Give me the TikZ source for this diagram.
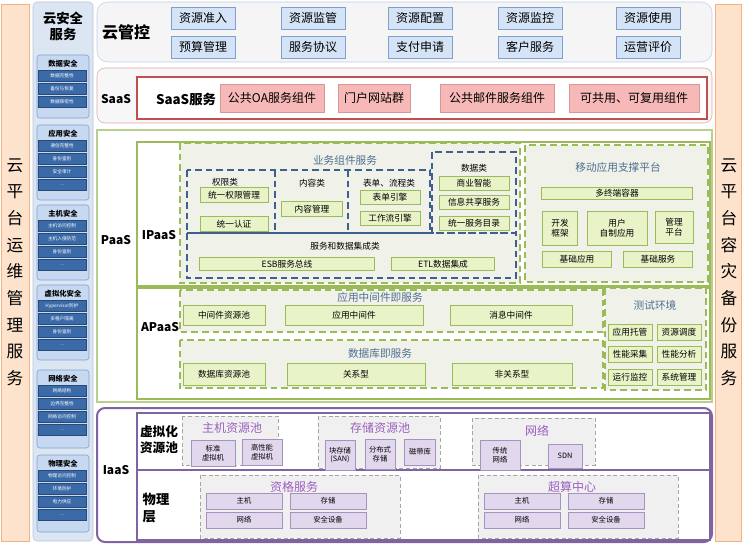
\documentclass[tikz,border=0pt]{standalone}
\usepackage{fontspec}
\setmainfont{Noto Sans CJK SC}
\usepackage{tikz}
\usetikzlibrary{positioning}
\definecolor{orbar}{HTML}{FDE3CC}
\definecolor{orline}{HTML}{F4B183}
\definecolor{secbg}{HTML}{DCE6F2}
\definecolor{secblk}{HTML}{C6D9F1}
\definecolor{secitem}{HTML}{3A6AA8}
\definecolor{bluebox}{HTML}{D5E3F6}
\definecolor{blueline}{HTML}{7F9FCF}
\definecolor{pinkbox}{HTML}{F7B9B7}
\definecolor{redline}{HTML}{C0504D}
\definecolor{greenbox}{HTML}{E8F3C8}
\definecolor{greenline}{HTML}{9BBB59}
\definecolor{paasbg}{HTML}{F0F2EA}
\definecolor{dashblue}{HTML}{3F5F8F}
\definecolor{purp}{HTML}{8064A2}
\definecolor{purpbox}{HTML}{E2D8EE}
\definecolor{purptxt}{HTML}{9B5FC0}
\definecolor{titletxt}{HTML}{4F6F8F}
\newcommand\etc{\ldots}
\tikzset{
  wh/.style 2 args={minimum width=#1*0.75pt, minimum height=#2*0.75pt, inner sep=0pt},
  bluebx/.style={draw=blueline, fill=bluebox, wh={64}{22}, font=\fontsize{9}{10}\selectfont},
  pinkbx/.style={draw=redline!60, fill=pinkbox, minimum height=28*0.75pt, inner sep=1pt, font=\fontsize{9}{10}\selectfont},
  grnbx/.style={draw=greenline, fill=greenbox, inner sep=0pt, font=\fontsize{6.5}{7.5}\selectfont},
  purbx/.style={draw=purp!70, fill=purpbox, inner sep=0pt, font=\fontsize{5.5}{6.5}\selectfont, align=center},
  grdash/.style={draw=greenline, line width=1.5pt, dash pattern=on 5pt off 3pt},
  bldash/.style={draw=dashblue, line width=1.2pt, dash pattern=on 5pt off 3pt},
  gydash/.style={draw=gray!70, densely dashed, fill=gray!12},
  lbl/.style={font=\bfseries\fontsize{9}{10}\selectfont},
  ttl/.style={text=titletxt, font=\fontsize{8}{9}\selectfont},
  pttl/.style={text=purptxt, font=\fontsize{9}{10}\selectfont},
  secit/.style={fill=secitem, draw=secitem!70!black, wh={48}{11}, text=white, font=\fontsize{3.5}{4}\selectfont},
  vbar/.style={align=center, font=\fontsize{12.5}{20}\selectfont},
}

\begin{document}
\begin{tikzpicture}[x=0.75pt, y=-0.75pt]
  \useasboundingbox (0,0) rectangle (742,545);

  % side bars
  \draw[orline, fill=orbar] (1,4) rectangle (29,541);
  \draw[orline, fill=orbar] (715,4) rectangle (741,541);
  \node[vbar] (ops) at (15,272) {云\\平\\台\\运\\维\\管\\理\\服\\务};
  \node[vbar] (dr) at (729,272) {云\\平\\台\\容\\灾\\备\\份\\服\\务};

  % security column
  \draw[blueline!60, fill=secbg, rounded corners=3pt] (33,2) rectangle (93,541);
  \node[align=center, font=\bfseries\fontsize{10}{12}\selectfont] (sec) at (63,26) {云安全\\服务};
  \foreach \ty/\h/\tname/\items in {
      55/63/数据安全/{数据完整性,备份与恢复,数据保密性},
      125/75/应用安全/{通信完整性,身份鉴别,安全审计,\etc},
      205/75/主机安全/{主机访问控制,主机入侵防范,身份鉴别,\etc},
      285/75/虚拟化安全/{Hypervisor防护,多租户隔离,身份鉴别,\etc},
      370/78/网络安全/{网络结构,边界完整性,网络访问控制,\etc},
      455/77/物理安全/{物理访问控制,环境防护,电力供应,\etc}} {
    \draw[blueline, fill=secblk, rounded corners=2pt] (37,\ty) rectangle (89,\ty+\h);
    \node[font=\bfseries\fontsize{5.5}{6}\selectfont] (s\ty) at (63,\ty+9) {\tname};
    \foreach \it [count=\k] in \items
      \node[secit] (s\ty-\k) at (62,\ty+8+\k*13) {\it};
  }

  % cloud management
  \draw[blueline!50, fill=gray!8, rounded corners=8pt] (97,2) rectangle (712,62);
  \node[font=\bfseries\fontsize{12}{14}\selectfont] (mgmt) at (126,32) {云管控};
  \foreach \cx/\a/\b [count=\i] in {203/资源准入/预算管理, 313/资源监管/服务协议, 420/资源配置/支付申请,
      530/资源监控/客户服务, 648/资源使用/运营评价} {
    \node[bluebx] (m\i a) at (\cx,18) {\a};
    \node[bluebx] (m\i b) at (\cx,47) {\b};
  }

  % SaaS
  \draw[redline!50, fill=gray!6, rounded corners=6pt] (97,68) rectangle (712,123);
  \node[lbl] (saas) at (116,99) {SaaS};
  \draw[redline, line width=1.5pt, fill=white] (137,77) rectangle (707,119);
  \node[font=\bfseries\fontsize{10}{12}\selectfont] (saassvc) at (186,99) {SaaS服务};
  \node[pinkbx, minimum width=104*0.75pt] (oa) at (272,98) {公共OA服务组件};
  \node[pinkbx, minimum width=72*0.75pt] (portal) at (374,98) {门户网站群};
  \node[pinkbx, minimum width=114*0.75pt] (mail) at (497,98) {公共邮件服务组件};
  \node[pinkbx, minimum width=130*0.75pt] (reuse) at (634,98) {可共用、可复用组件};

  % PaaS
  \draw[greenline!70, line width=1pt, fill=white] (97,130) rectangle (712,402);
  \node[lbl] (paas) at (116,240) {PaaS};
  \draw[greenline, line width=1.2pt, fill=white] (137,142) rectangle (710,286);
  \node[lbl] (ipaas) at (159,235) {IPaaS};
  \draw[grdash, fill=paasbg] (180,143) rectangle (520,283);
  \node[ttl] (biz) at (345,160) {业务组件服务};
  \draw[bldash] (187,170) rectangle (430,233);
  \draw[bldash] (275,170) -- (275,233);
  \draw[bldash] (348,170) -- (348,233);
  \draw[bldash] (432,152) rectangle (516,233);
  \draw[bldash] (187,233) rectangle (516,278);
  \node[font=\fontsize{6.5}{7}\selectfont] (auth) at (225,182) {权限类};
  \node[grnbx, wh={68}{15}] (auth1) at (234,195) {统一权限管理};
  \node[grnbx, wh={68}{15}] (auth2) at (234,224) {统一认证};
  \node[font=\fontsize{6.5}{7}\selectfont] (cont) at (312,183) {内容类};
  \node[grnbx, wh={61}{15}] (cont1) at (312,209) {内容管理};
  \node[font=\fontsize{6.5}{7}\selectfont] (form) at (389,183) {表单、流程类};
  \node[grnbx, wh={60}{14}] (form1) at (390,197) {表单引擎};
  \node[grnbx, wh={60}{14}] (form2) at (390,218) {工作流引擎};
  \node[font=\fontsize{6.5}{7}\selectfont] (data) at (474,168) {数据类};
  \node[grnbx, wh={70}{14}] (data1) at (474,183) {商业智能};
  \node[grnbx, wh={70}{14}] (data2) at (474,202) {信息共享服务};
  \node[grnbx, wh={70}{14}] (data3) at (474,223) {统一服务目录};
  \node[font=\fontsize{6.5}{7}\selectfont] (intg) at (345,246) {服务和数据集成类};
  \node[grnbx, wh={175}{13}] (esb) at (287,264) {ESB服务总线};
  \node[grnbx, wh={103}{13}] (etl) at (443,264) {ETL数据集成};

  \draw[grdash, fill=paasbg] (525,145) rectangle (708,282);
  \node[ttl] (mob) at (618,167) {移动应用支撑平台};
  \node[grnbx, wh={151}{12}] (mob1) at (617,193) {多终端容器};
  \node[grnbx, wh={35}{34}, align=center] (mob2) at (560,228) {开发\\框架};
  \node[grnbx, wh={60}{34}, align=center] (mob3) at (617,228) {用户\\自制应用};
  \node[grnbx, wh={38}{32}, align=center] (mob4) at (674,227) {管理\\平台};
  \node[grnbx, wh={69}{16}] (mob5) at (577,259) {基础应用};
  \node[grnbx, wh={69}{16}] (mob6) at (658,259) {基础服务};

  \draw[greenline, line width=1.2pt, fill=white] (137,288) rectangle (710,399);
  \node[lbl] (apaas) at (160,327) {APaaS};
  \draw[grdash, fill=paasbg] (180,290) rectangle (603,332);
  \node[ttl] (mw) at (380,297) {应用中间件即服务};
  \node[grnbx, wh={82}{20}] (mw1) at (224,315) {中间件资源池};
  \node[grnbx, wh={138}{20}] (mw2) at (354,315) {应用中间件};
  \node[grnbx, wh={122}{20}] (mw3) at (511,315) {消息中间件};
  \draw[grdash, fill=paasbg] (180,340) rectangle (603,388);
  \node[ttl] (db) at (380,353) {数据库即服务};
  \node[grnbx, wh={82}{22}] (db1) at (224,374) {数据库资源池};
  \node[grnbx, wh={138}{22}] (db2) at (356,374) {关系型};
  \node[grnbx, wh={120}{22}] (db3) at (512,374) {非关系型};
  \draw[grdash, fill=paasbg] (605,288) rectangle (706,390);
  \node[ttl] (test) at (655,305) {测试环境};
  \foreach \y/\a/\b [count=\i] in {332/应用托管/资源调度, 354/性能采集/性能分析, 377/运行监控/系统管理} {
    \node[grnbx, wh={44}{16}] (t\i a) at (630,\y) {\a};
    \node[grnbx, wh={44}{16}] (t\i b) at (679,\y) {\b};
  }

  % IaaS
  \draw[purp, line width=1.5pt, fill=white, rounded corners=6pt] (97,408) rectangle (712,542);
  \node[lbl] (iaas) at (116,470) {IaaS};
  \draw[purp, line width=1.2pt] (137,413) rectangle (710,470);
  \draw[purp, line width=1.5pt] (137,470) rectangle (710,540);
  \node[align=center, font=\bfseries\fontsize{9.5}{12}\selectfont] (virt) at (159,440) {虚拟化\\资源池};
  \node[align=left, font=\bfseries\fontsize{10}{13}\selectfont] (phys) at (156,508) {物理\\层};

  \draw[gydash] (182,416) rectangle (278,465);
  \node[pttl] (hpool) at (232,428) {主机资源池};
  \node[purbx, wh={44}{26}] (vm1) at (213,453) {标准\\虚拟机};
  \node[purbx, wh={40}{26}] (vm2) at (262,452) {高性能\\虚拟机};
  \draw[gydash] (318,416) rectangle (440,468);
  \node[pttl] (spool) at (380,428) {存储资源池};
  \node[purbx, wh={30}{30}] (st1) at (340,455) {块存储\\(SAN)};
  \node[purbx, wh={30}{30}] (st2) at (380,454) {分布式\\存储};
  \node[purbx, wh={31}{26}] (st3) at (420,452) {磁带库};
  \draw[gydash] (472,418) rectangle (595,465);
  \node[pttl] (npool) at (537,431) {网络};
  \node[purbx, wh={40}{30}] (nw1) at (500,455) {传统\\网络};
  \node[purbx, wh={34}{24}] (nw2) at (565,456) {SDN};

  \foreach \x/\t/\n in {200/资格服务/q, 478/超算中心/c} {
    \draw[gydash] (\x,475) rectangle (\x+200,538);
    \node[pttl] (\n) at (\x+94,487) {\t};
    \node[purbx, wh={76}{16}] (\n1) at (\x+44,501) {主机};
    \node[purbx, wh={76}{16}] (\n2) at (\x+128,501) {存储};
    \node[purbx, wh={76}{16}] (\n3) at (\x+44,520) {网络};
    \node[purbx, wh={76}{16}] (\n4) at (\x+128,520) {安全设备};
  }
\end{tikzpicture}
\end{document}
